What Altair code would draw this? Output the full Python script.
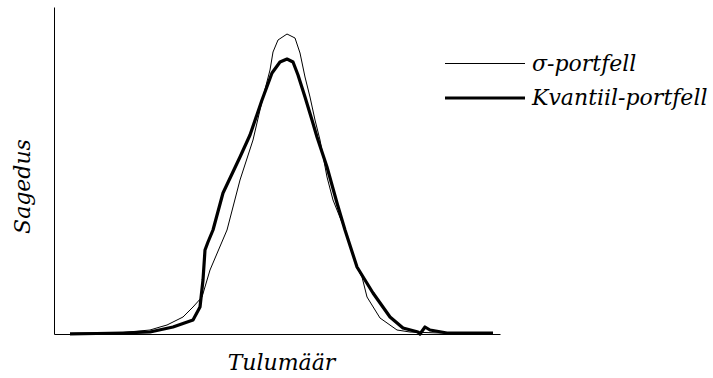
import altair as alt
import pandas as pd

series_names = ["σ-portfell", "Kvantiil-portfell"]

sigma_x = [16, 69, 96, 106, 113, 129, 139, 148, 156, 173, 186, 199, 209, 216, 219, 224, 233, 241, 246, 251, 256, 261, 266, 273, 279, 291, 303, 308, 313, 326, 343, 356, 386, 439]
sigma_y = [1, 1.5, 4, 7, 9, 17, 27, 37, 64, 104, 154, 194, 237, 264, 282, 294, 300, 296, 281, 257, 237, 214, 194, 157, 134, 104, 66, 57, 37, 16, 4, 2, 1, 1]

kv_x = [16, 69, 96, 119, 139, 146, 149, 151, 154, 159, 169, 186, 196, 208, 218, 226, 233, 239, 244, 251, 258, 263, 273, 283, 291, 303, 319, 336, 349, 364, 366, 371, 376, 393, 439]
kv_y = [0, 1, 2, 7, 14, 27, 54, 84, 92, 104, 141, 177, 199, 234, 261, 272, 275, 272, 259, 237, 214, 197, 167, 131, 104, 67, 41, 17, 6, 2, 0, 7, 4, 1, 1]

rows = []
for x, y in zip(sigma_x, sigma_y):
    rows.append({"x": x, "y": y, "series": series_names[0], "order": 1})
for x, y in zip(kv_x, kv_y):
    rows.append({"x": x, "y": y, "series": series_names[1], "order": 0})
df = pd.DataFrame(rows)

serif = "DejaVu Serif"

chart = alt.Chart(df).mark_line(color="black", strokeJoin="round").encode(
    x=alt.X("x:Q", scale=alt.Scale(domain=[0, 446], nice=False, zero=False),
            axis=alt.Axis(title="Tulumäär", labels=False, ticks=False, grid=False,
                          domainColor="black", domainWidth=1,
                          titleFont=serif, titleFontStyle="italic", titleFontWeight="normal",
                          titleFontSize=22, titleColor="black", titlePadding=18,
                          titleX=227)),
    y=alt.Y("y:Q", scale=alt.Scale(domain=[0, 327], nice=False, zero=False),
            axis=alt.Axis(title="Sagedus", labels=False, ticks=False, grid=False,
                          domainColor="black", domainWidth=1,
                          titleFont=serif, titleFontStyle="italic", titleFontWeight="normal",
                          titleFontSize=22, titleColor="black", titlePadding=20,
                          titleY=179)),
    strokeWidth=alt.StrokeWidth("series:N",
        scale=alt.Scale(domain=series_names, range=[1, 3.2]),
        legend=alt.Legend(title=None, orient="none", legendX=437, legendY=40,
                          symbolType="M-4,0H1", symbolSize=1024,
                          symbolStrokeColor="black", symbolFillColor="transparent",
                          labelFont=serif, labelFontStyle="italic", labelFontSize=22,
                          labelColor="black", labelOffset=5, rowPadding=5, padding=0,
                          labelLimit=300)),
    detail="series:N",
    order="order:Q",
).properties(
    width=446, height=327,
    autosize=alt.AutoSizeParams(type="none"),
    padding={"left": 54, "top": 7, "right": 213, "bottom": 44},
).configure_view(stroke=None)

chart.save("out.html", embed_options={"renderer": "svg", "actions": False})
